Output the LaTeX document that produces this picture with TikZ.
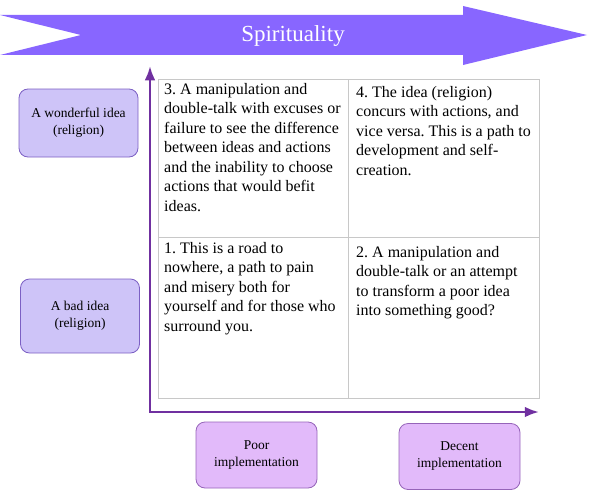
\documentclass[tikz,border=0pt]{standalone}
\usepackage{fontspec}
\setmainfont{Liberation Serif}
\usetikzlibrary{arrows.meta}
\definecolor{band}{RGB}{136,102,255}
\definecolor{axis}{RGB}{112,48,160}
\definecolor{idea}{RGB}{206,196,248}
\definecolor{ideaedge}{RGB}{124,96,196}
\definecolor{impl}{RGB}{226,186,250}
\definecolor{impledge}{RGB}{150,100,185}
\definecolor{grid}{RGB}{200,200,200}
\frenchspacing
\begin{document}
\begin{tikzpicture}[x=1pt,y=-1pt,>=Latex,
    ideabox/.style={draw=ideaedge,fill=idea,rounded corners=9pt,line width=.8pt,
        minimum width=119pt,minimum height=68pt,align=center,
        font=\fontsize{13.5}{17}\selectfont},
    implbox/.style={draw=impledge,fill=impl,rounded corners=9pt,line width=.8pt,
        minimum width=121pt,minimum height=66pt,align=center,
        font=\fontsize{13.5}{17}\selectfont},
    celltext/.style={anchor=north west,inner sep=0pt,align=left,
        font=\fontsize{16}{19.5}\selectfont}]
\useasboundingbox (0,0) rectangle (591,495);
% band
\fill[band] (0,15)--(463,15)--(463,6)--(587,35)--(463,65)--(463,55)--(0,55)--(81,35)--cycle;
\node[text=white,font=\fontsize{23}{26}\selectfont] (title) at (293,36) {Spirituality};
% grid
\draw[grid] (158,79) rectangle (539,398);
\draw[grid] (158,237)--(539,237);
\draw[grid] (348,79)--(348,398);
% axes
\coordinate (O) at (150,412);
\coordinate (ytop) at (150,66);
\coordinate (xend) at (539,412);
\draw[axis,line width=2.5pt,->,line cap=rect] (O)--(ytop);
\draw[axis,line width=2.5pt,->] (O)--(xend);
% cells
\node[celltext] (c3) at (164,83) {3. A manipulation and\\double-talk with excuses or\\failure to see the difference\\between ideas and actions\\and the inability to choose\\actions that would befit\\ideas.};
\node[celltext] (c4) at (356,86) {4. The idea (religion)\\concurs with actions, and\\vice versa. This is a path to\\development and self-\\creation.};
\node[celltext] (c1) at (164,242) {1. This is a road to\\nowhere, a path to pain\\and misery both for\\yourself and for those who\\surround you.};
\node[celltext] (c2) at (356,246) {2. A manipulation and\\double-talk or an attempt\\to transform a poor idea\\into something good?};
% labels
\node[ideabox] (good) at (78.5,123) {A wonderful idea\\(religion)};
\node[ideabox,minimum height=74pt] (bad) at (80,316) {A bad idea\\(religion)};
\node[implbox] (poor) at (256.5,455) {Poor\\implementation};
\node[implbox,minimum width=121pt] (decent) at (459.5,456.5) {Decent\\implementation};
\end{tikzpicture}
\end{document}
